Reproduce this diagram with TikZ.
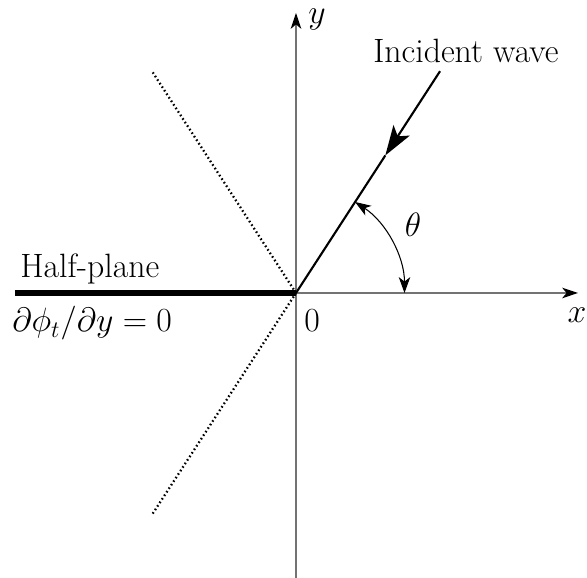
\RequirePackage{fix-cm}
\documentclass[tikz,border=0pt]{standalone}
\usepackage{amsmath,amssymb}
\usepackage{tikz}
\usetikzlibrary{arrows.meta, positioning, calc}
\newcommand\lblsize{\fontsize{19.2}{23}\selectfont}

\begin{document}
\begin{tikzpicture}[
  axis/.style={line width=0.8pt, draw=black!55, -{Stealth[length=9pt, width=6pt, inset=2.5pt, color=black]}},
  wall/.style={line width=3.4pt},
  wave/.style={line width=1.2pt},
  mirror/.style={line width=1.3pt, dash pattern=on 0.9pt off 1.5pt},
  lbl/.style={font=\lblsize, inner sep=0pt}
]
\useasboundingbox (-5.92,-5.7) rectangle (5.82,5.86);
\coordinate (O) at (0,0);
\coordinate (xend) at (5.64,0);
\coordinate (ytop) at (0,5.6);
\coordinate (ybot) at (0,-5.7);
\coordinate (hp) at (-5.62,0);
\coordinate (wend) at (57:5.29);
\coordinate (wtip) at (57:3.28);
\coordinate (mup) at (123:5.28);
\coordinate (mdn) at (237:5.28);
\coordinate (a1) at (57:2.17);
% axes and half-plane
\draw[axis] (O) -- (xend);
\draw[axis] (ybot) -- (ytop);
\draw[wall] (hp) -- (O);
% dotted mirror lines
\draw[mirror] (O) -- (mup);
\draw[mirror] (O) -- (mdn);
% incident wave
\draw[wave, -{Stealth[length=17pt, width=11pt, inset=4pt]}] (wend) -- (wtip);
\draw[wave] (wtip) -- (O);
\draw[line width=0.6pt, {Stealth[length=9pt, width=6.5pt, inset=2.5pt]}-{Stealth[length=9pt, width=6.5pt, inset=2.5pt]}]
  (a1) arc[start angle=57, end angle=0, radius=2.17];
% labels
\node[lbl] (lx) at (5.62,-0.44) {$x$};
\node[lbl] (ly) at (0.42,5.46) {$y$};
\node[lbl] (lth) at (2.34,1.36) {$\theta$};
\node[lbl, anchor=base] (l0) at (0.32,-0.78) {$0$};
\node[lbl, anchor=base] (lwave) at (3.4,4.6) {Incident wave};
\node[lbl, anchor=base west] (lhp) at (-5.52,0.3) {Half-plane};
\node[lbl, anchor=base west] (lbc) at (-5.68,-0.78) {$\partial\phi_t/\partial y=0$};
\end{tikzpicture}
\end{document}
